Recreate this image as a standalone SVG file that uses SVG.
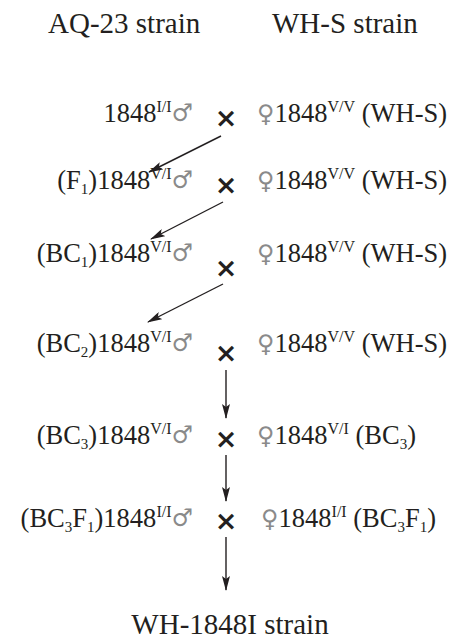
<svg xmlns="http://www.w3.org/2000/svg" width="449" height="641" viewBox="0 0 449 641">
<style>
text{font-family:"Liberation Serif","Times New Roman",serif;fill:#231f20}
.title{font-size:29px}
.row{font-size:26.5px}
.sub{font-size:15px}
.sup{font-size:16px}
.sym{font-family:"DejaVu Serif","DejaVu Sans",serif;font-size:24px;fill:#8a8a8a}
.cross{font-family:"DejaVu Sans","Liberation Sans",sans-serif;font-size:27px;font-weight:bold;fill:#231f20}
.conn line{stroke:#231f20;stroke-width:1.4;fill:none}
</style>
<defs>
<marker id="ah" viewBox="0 0 15 8" refX="14" refY="4" markerWidth="15" markerHeight="8" markerUnits="userSpaceOnUse" orient="auto">
<path d="M0,0 L15,4 L0,8 L3,4 Z" fill="#231f20"/>
</marker>
</defs>
<rect width="449" height="641" fill="#fff"/>
<g id="title-aq23"><text class="title" x="48" y="33">AQ-23 strain</text></g>
<g id="title-whs"><text class="title" x="272" y="33">WH-S strain</text></g>

<g id="row1">
<text class="row" x="193" y="122" text-anchor="end">1848<tspan class="sup" dy="-10">I/I</tspan><tspan class="sym" dy="9">♂</tspan></text>
<text class="cross" x="226" y="127" text-anchor="middle">×</text>
<text class="row" x="257" y="122"><tspan class="sym">♀</tspan>1848<tspan class="sup" dy="-10">V/V</tspan><tspan dy="10"> (WH-S)</tspan></text>
</g>
<g id="row2">
<text class="row" x="193" y="189" text-anchor="end">(F<tspan class="sub" dy="5">1</tspan><tspan dy="-5">)1848</tspan><tspan class="sup" dy="-10">V/I</tspan><tspan class="sym" dy="9">♂</tspan></text>
<text class="cross" x="226" y="194" text-anchor="middle">×</text>
<text class="row" x="257" y="189"><tspan class="sym">♀</tspan>1848<tspan class="sup" dy="-10">V/V</tspan><tspan dy="10"> (WH-S)</tspan></text>
</g>
<g id="row3">
<text class="row" x="193" y="262" text-anchor="end">(BC<tspan class="sub" dy="5">1</tspan><tspan dy="-5">)1848</tspan><tspan class="sup" dy="-10">V/I</tspan><tspan class="sym" dy="9">♂</tspan></text>
<text class="cross" x="226" y="277" text-anchor="middle">×</text>
<text class="row" x="257" y="262"><tspan class="sym">♀</tspan>1848<tspan class="sup" dy="-10">V/V</tspan><tspan dy="10"> (WH-S)</tspan></text>
</g>
<g id="row4">
<text class="row" x="193" y="352" text-anchor="end">(BC<tspan class="sub" dy="5">2</tspan><tspan dy="-5">)1848</tspan><tspan class="sup" dy="-10">V/I</tspan><tspan class="sym" dy="9">♂</tspan></text>
<text class="cross" x="226" y="362" text-anchor="middle">×</text>
<text class="row" x="257" y="352"><tspan class="sym">♀</tspan>1848<tspan class="sup" dy="-10">V/V</tspan><tspan dy="10"> (WH-S)</tspan></text>
</g>
<g id="row5">
<text class="row" x="193" y="444" text-anchor="end">(BC<tspan class="sub" dy="5">3</tspan><tspan dy="-5">)1848</tspan><tspan class="sup" dy="-10">V/I</tspan><tspan class="sym" dy="9">♂</tspan></text>
<text class="cross" x="226" y="448" text-anchor="middle">×</text>
<text class="row" x="257" y="444"><tspan class="sym">♀</tspan>1848<tspan class="sup" dy="-10">V/I</tspan><tspan dy="10"> (BC</tspan><tspan class="sub" dy="5">3</tspan><tspan dy="-5">)</tspan></text>
</g>
<g id="row6">
<text class="row" x="193" y="527" text-anchor="end">(BC<tspan class="sub" dy="5">3</tspan><tspan dy="-5">F</tspan><tspan class="sub" dy="5">1</tspan><tspan dy="-5">)1848</tspan><tspan class="sup" dy="-10">I/I</tspan><tspan class="sym" dy="9">♂</tspan></text>
<text class="cross" x="226" y="530" text-anchor="middle">×</text>
<text class="row" x="261" y="527"><tspan class="sym">♀</tspan>1848<tspan class="sup" dy="-10">I/I</tspan><tspan dy="10"> (BC</tspan><tspan class="sub" dy="5">3</tspan><tspan dy="-5">F</tspan><tspan class="sub" dy="5">1</tspan><tspan dy="-5">)</tspan></text>
</g>
<g id="result"><text class="title" x="230" y="634" text-anchor="middle">WH-1848I strain</text></g>

<g id="connectors" class="conn">
<line x1="221" y1="136" x2="149" y2="172" marker-end="url(#ah)"/>
<line x1="223" y1="202" x2="151" y2="239" marker-end="url(#ah)"/>
<line x1="223" y1="284" x2="148" y2="322" marker-end="url(#ah)"/>
<line x1="226" y1="370" x2="226" y2="418" marker-end="url(#ah)"/>
<line x1="226" y1="455" x2="226" y2="501" marker-end="url(#ah)"/>
<line x1="226" y1="537" x2="226" y2="590" marker-end="url(#ah)"/>
</g>
</svg>
